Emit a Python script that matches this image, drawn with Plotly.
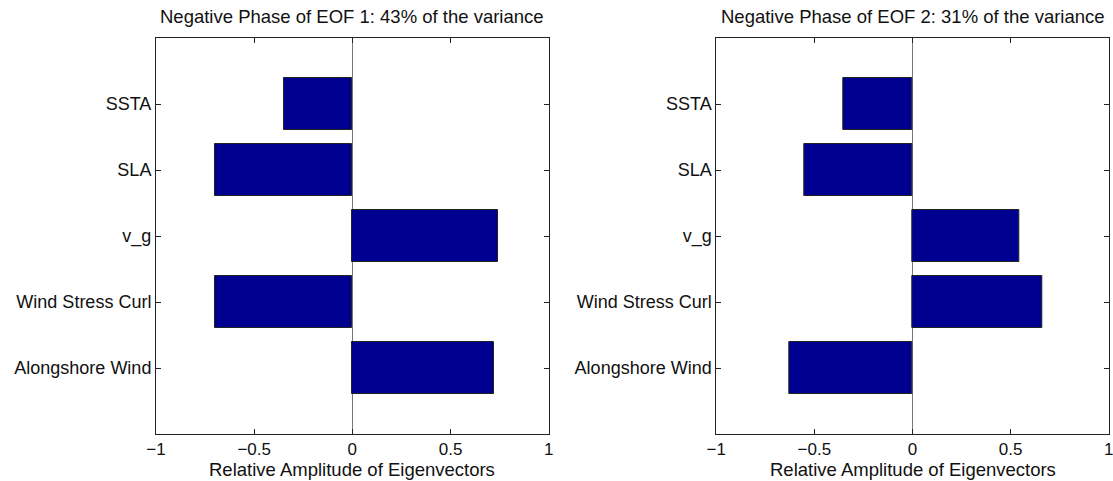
import plotly.graph_objects as go

# Variables, listed bottom to top
variables = ["Alongshore Wind", "Wind Stress Curl", "v_g", "SLA", "SSTA"]

# Relative amplitudes of the eigenvectors (negative phase)
eof1_amp = [0.72, -0.70, 0.74, -0.70, -0.35]
eof2_amp = [-0.63, 0.66, 0.545, -0.55, -0.355]

titles = [
    "Negative Phase of EOF 1: 43% of the variance",
    "Negative Phase of EOF 2: 31% of the variance",
]
x_title = "Relative Amplitude of Eigenvectors"
x_ticks = [-1, -0.5, 0, 0.5, 1]
x_ticktext = ["\u22121", "\u22120.5", "0", "0.5", "1"]

W, H = 1113, 481
FONT = "Liberation Sans, Arial, Helvetica, sans-serif"
BAR_COLOR = "#000090"
TEXT_COLOR = "#111111"

# panel boxes in pixels: (left, right)
panels_px = [(156, 548.7), (716.3, 1108.7)]
top_px, bottom_px = 38, 434

fig = go.Figure()

for i, (amp, (l, r)) in enumerate(zip([eof1_amp, eof2_amp], panels_px)):
    xa = "x" if i == 0 else "x2"
    ya = "y" if i == 0 else "y2"
    fig.add_trace(go.Bar(
        x=amp, y=variables, orientation="h", width=0.8,
        marker=dict(color=BAR_COLOR, line=dict(color="#222222", width=1)),
        xaxis=xa, yaxis=ya, showlegend=False,
    ))
    dom_x = [l / W, r / W]
    dom_y = [1 - bottom_px / H, 1 - top_px / H]
    axis_common = dict(showgrid=False, showline=True, linecolor="#222222",
                       linewidth=1, mirror="ticks", ticks="inside",
                       ticklen=5, tickcolor="#222222", automargin=False,
                       ticklabeloverflow="allow")
    key = "" if i == 0 else "2"
    fig.update_layout(**{
        f"xaxis{key}": dict(domain=dom_x, range=[-1, 1], tickvals=x_ticks,
                            ticktext=x_ticktext, zeroline=True,
                            zerolinecolor="#777777", zerolinewidth=1,
                            anchor=ya,
                            tickfont=dict(family=FONT, size=17, color=TEXT_COLOR),
                            **axis_common),
        f"yaxis{key}": dict(domain=dom_y, range=[-1, 5], type="category",
                            categoryorder="array", categoryarray=variables,
                            zeroline=False, anchor=xa,
                            tickfont=dict(family=FONT, size=18, color=TEXT_COLOR),
                            **axis_common),
    })
    cx = (l + r) / 2 / W
    fig.add_annotation(text=titles[i], x=cx, y=1 - 16 / H, xref="paper",
                       yref="paper", showarrow=False, xanchor="center",
                       yanchor="middle",
                       font=dict(family=FONT, size=18.5, color=TEXT_COLOR))
    fig.add_annotation(text=x_title, x=cx, y=1 - 469 / H, xref="paper",
                       yref="paper", showarrow=False, xanchor="center",
                       yanchor="middle",
                       font=dict(family=FONT, size=18.5, color=TEXT_COLOR))

fig.update_layout(
    width=W, height=H,
    margin=dict(l=0, r=0, t=0, b=0),
    paper_bgcolor="white", plot_bgcolor="white",
    bargap=0,
)

fig.write_html("out.html")
